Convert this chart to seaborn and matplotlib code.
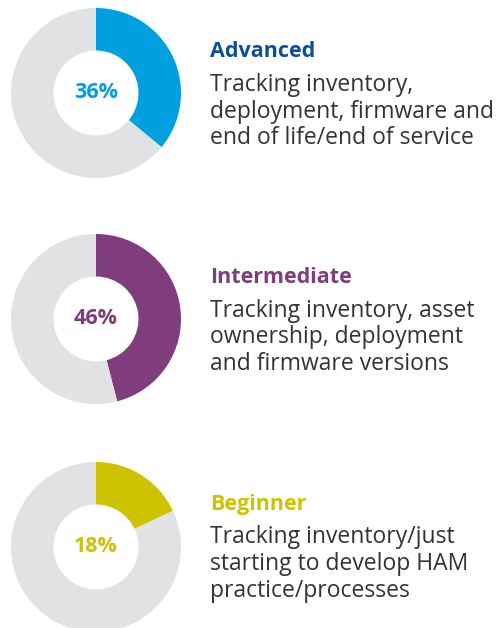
import matplotlib
matplotlib.use("Agg")
import matplotlib.pyplot as plt
import seaborn as sns

sns.set_theme(style="white")
plt.rcParams['font.family'] = ['Open Sans', 'DejaVu Sans']

levels = ["Advanced", "Intermediate", "Beginner"]
shares = [36, 46, 18]
descriptions = [
    ["Tracking inventory,", "deployment, firmware and", "end of life/end of service"],
    ["Tracking inventory, asset", "ownership, deployment", "and firmware versions"],
    ["Tracking inventory/just", "starting to develop HAM", "practice/processes"],
]
wedge_colors = ["#009fdf", "#803d7e", "#cdc300"]
title_colors = ["#0b4f9c", "#803d7e", "#cdc300"]
rest_color = "#e1e2e4"
text_color = "#333333"

W, H = 498, 628
fig = plt.figure(figsize=(W / 100, H / 100), dpi=100)
fig.patch.set_facecolor("white")

centers = [(96, 93), (96, 319), (96, 547)]
R = 85
title_base = [57, 283, 510]
desc_base = [[91, 118, 144], [317, 343, 370], [543, 570, 597]]

for i in range(3):
    cx, cy = centers[i]
    ax = fig.add_axes([(cx - R) / W, 1 - (cy + R) / H, 2 * R / W, 2 * R / H])
    ax.pie([shares[i], 100 - shares[i]], colors=[wedge_colors[i], rest_color],
           startangle=90, counterclock=False, radius=1,
           wedgeprops=dict(width=0.5, edgecolor="none"))
    ax.set_xlim(-1, 1)
    ax.set_ylim(-1, 1)
    ax.set_aspect("equal")
    ax.axis("off")
    ax.text(0, 0, f"{shares[i]}%", ha="center", va="center", fontsize=15.5,
            fontweight="bold", color=wedge_colors[i])
    fig.text(210 / W, 1 - title_base[i] / H, levels[i], ha="left", va="baseline",
             fontsize=15.5, fontweight="bold", color=title_colors[i])
    for line, yb in zip(descriptions[i], desc_base[i]):
        fig.text(210 / W, 1 - yb / H, line, ha="left", va="baseline",
                 fontsize=16.5, color=text_color)

fig.savefig("out.png", dpi=100)
